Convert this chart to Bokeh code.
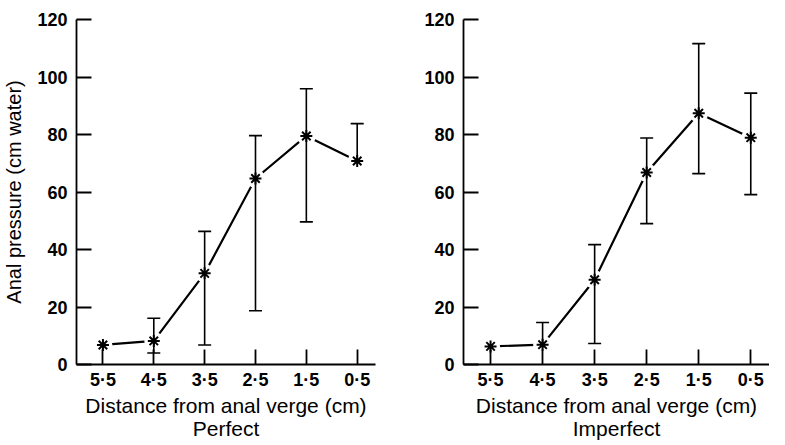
import math
from bokeh.plotting import figure
from bokeh.layouts import row
from bokeh.models import FixedTicker, ColumnDataSource, Range1d
from bokeh.embed import file_html
from bokeh.resources import INLINE

nan = float("nan")

distance_labels = ["5·5", "4·5", "3·5", "2·5", "1·5", "0·5"]
y_ticks = [0, 20, 40, 60, 80, 100, 120]

perfect_mean = [6.8, 8.2, 31.7, 64.7, 79.5, 70.8]
perfect_upper = [nan, 16.1, 46.3, 79.6, 95.9, 83.8]
perfect_lower = [nan, 4.0, 6.8, 18.7, 49.6, nan]

imperfect_mean = [6.3, 6.9, 29.5, 66.8, 87.4, 78.9]
imperfect_upper = [nan, 14.6, 41.7, 78.8, 111.6, 94.4]
imperfect_lower = [nan, nan, 7.3, 49.0, 66.4, 59.1]

FONT = "Liberation Sans"
X0, X1 = -0.52, 5.36
Y0, Y1 = 0, 120
TOP, BOTTOM, H = 19, 79, 443


def make_panel(mean, upper, lower, title, width, border_left, border_right, ylabel):
    p = figure(width=width, height=H, output_backend="svg", toolbar_location=None,
               x_range=Range1d(X0, X1), y_range=Range1d(Y0, Y1),
               min_border_left=border_left, min_border_right=border_right,
               min_border_top=TOP, min_border_bottom=BOTTOM)
    p.outline_line_color = None
    p.xgrid.visible = False
    p.ygrid.visible = False
    p.background_fill_color = "white"
    p.border_fill_color = "white"

    x = list(range(len(mean)))
    src = ColumnDataSource(dict(x=x, y=mean))
    p.line("x", "y", source=src, line_color="black", line_width=2.2)
    p.scatter("x", "y", source=src, marker="circle", size=19,
              fill_color="white", line_color=None)
    p.scatter("x", "y", source=src, marker="asterisk", size=12,
              line_color="black", line_width=2)

    top = [m if math.isnan(u) else u for m, u in zip(mean, upper)]
    bot = [m if math.isnan(l) else l for m, l in zip(mean, lower)]
    p.segment(x0=x, y0=bot, x1=x, y1=top, line_color="black", line_width=1.6)
    p.scatter(x=x, y=upper, marker="dash", size=13, line_color="black", line_width=1.6)
    p.scatter(x=x, y=lower, marker="dash", size=13, line_color="black", line_width=1.6)

    for ax in (p.xaxis[0], p.yaxis[0]):
        ax.axis_line_color = "black"
        ax.axis_line_width = 1.8
        ax.major_tick_line_color = "black"
        ax.major_tick_line_width = 1.8
        ax.major_tick_in = 15
        ax.major_tick_out = 0
        ax.minor_tick_line_color = None
        ax.major_label_text_font = FONT
        ax.major_label_text_font_style = "bold"
        ax.major_label_text_font_size = "18px"
        ax.major_label_text_color = "black"
        ax.axis_label_text_font = FONT
        ax.axis_label_text_font_style = "normal"
        ax.axis_label_text_color = "black"

    p.xaxis.ticker = FixedTicker(ticks=x)
    p.xaxis.major_label_overrides = {i: lab for i, lab in enumerate(distance_labels)}
    p.xaxis.major_label_standoff = 5
    p.xaxis.axis_label = "Distance from anal verge (cm)\n" + title
    p.xaxis.axis_label_text_font_size = "21px"
    p.xaxis.axis_label_text_line_height = 1.0
    p.xaxis.axis_label_standoff = 1

    p.yaxis.ticker = FixedTicker(ticks=y_ticks)
    p.yaxis.major_label_standoff = 9
    if ylabel:
        p.yaxis.axis_label = ylabel
        p.yaxis.axis_label_text_font_size = "20px"
        p.yaxis.axis_label_standoff = 9
    return p


p1 = make_panel(perfect_mean, perfect_upper, perfect_lower, "Perfect",
                378, 69, 3, "Anal pressure (cm water)")
p2 = make_panel(imperfect_mean, imperfect_upper, imperfect_lower, "Imperfect",
                391, 85, 0, None)

layout = row(p1, p2)
open("out.html", "w").write(file_html(layout, INLINE))
